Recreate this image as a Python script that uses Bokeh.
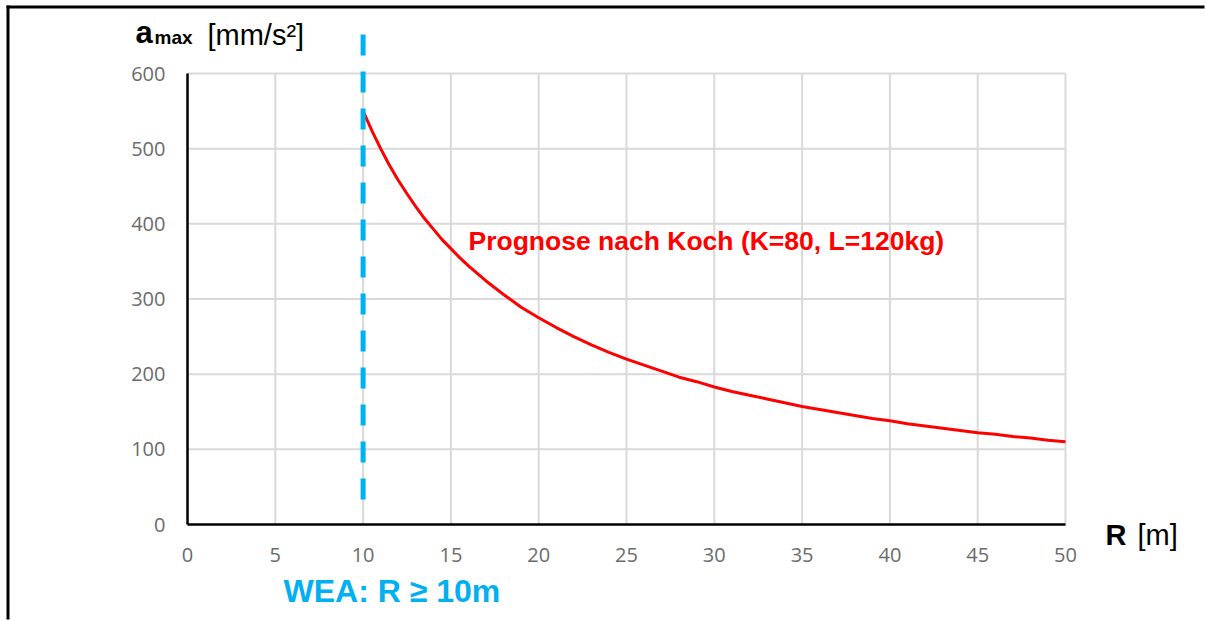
from bokeh.plotting import figure
from bokeh.models import Range1d, FixedTicker, Label
from bokeh.embed import file_html
from bokeh.resources import INLINE

# ---- data ----
radius_m = [10, 10.5, 11, 11.5, 12, 12.5, 13, 13.5, 14, 14.5, 15, 15.5, 16, 17, 18, 19, 20, 21,
            22, 23, 24, 25, 26, 27, 28, 29, 30, 31, 32, 33, 34, 35, 36, 37, 38, 39, 40, 41, 42,
            43, 44, 45, 46, 47, 48, 49, 50]
a_max = [550, 524, 500, 478, 458, 440, 423, 407, 393, 379, 367, 355, 344, 324, 306, 289, 275,
         262, 250, 239, 229, 220, 212, 204, 196, 190, 183, 177, 172, 167, 162, 157, 153, 149,
         145, 141, 138, 134, 131, 128, 125, 122, 120, 117, 115, 112, 110]
x_ticks = [0, 5, 10, 15, 20, 25, 30, 35, 40, 45, 50]
y_ticks = [0, 100, 200, 300, 400, 500, 600]
wea_limit = 10
wea_line_y = [652, 28]

# ---- layout: the frame covers the whole canvas ----
W, H = 1205, 620
KX = 878.0 / 50.0
KY = 451.0 / 600.0
XS = -187.0 / KX
YS = -(H - 524.0) / KY
def dx(px):
    return XS + px / KX
def dy(py):
    return YS + (H - py) / KY

p = figure(width=W, height=H, output_backend="svg", toolbar_location=None,
           x_range=Range1d(XS, XS + W / KX), y_range=Range1d(YS, YS + H / KY),
           min_border=0, min_border_left=0, min_border_right=0,
           min_border_top=0, min_border_bottom=0)
p.outline_line_color = None
p.border_fill_color = None
p.xgrid.visible = False
p.ygrid.visible = False

# outer frame: left and top edges only
p.quad(left=[dx(6), dx(6)], right=[dx(9), dx(W - 1)], top=[dy(5), dy(5)], bottom=[dy(H - 1), dy(8)],
       fill_color="black", line_color=None)

grid_col = "#d9d9d9"
p.segment(x0=x_ticks[1:], y0=[0] * (len(x_ticks) - 1), x1=x_ticks[1:], y1=[600] * (len(x_ticks) - 1),
          line_color=grid_col, line_width=2)
p.segment(x0=[0] * (len(y_ticks) - 1), y0=y_ticks[1:], x1=[50] * (len(y_ticks) - 1), y1=y_ticks[1:],
          line_color=grid_col, line_width=2)

for ax, ticks, bnds in ((p.xaxis[0], x_ticks, (0, 50)), (p.yaxis[0], y_ticks, (0, 600))):
    ax.fixed_location = 0
    ax.ticker = FixedTicker(ticks=ticks)
    ax.bounds = bnds
    ax.axis_line_color = "black"
    ax.axis_line_width = 2.5
    ax.major_tick_line_color = None
    ax.minor_tick_line_color = None
    ax.major_tick_out = 0
    ax.major_tick_in = 0
    ax.major_label_text_font = "Open Sans"
    ax.major_label_text_font_size = "20px"
    ax.major_label_text_color = "#6b6b6b"
p.xaxis[0].major_label_standoff = 23
p.yaxis[0].major_label_standoff = 22

p.line(radius_m, a_max, line_color="#ff0000", line_width=3, line_join="round")
p.line([wea_limit, wea_limit], wea_line_y, line_color="#00b0f0", line_width=5, line_dash="21 16")

def lab(text, px, py, size, style="normal", color="black"):
    p.add_layout(Label(x=dx(px), y=dy(py), text=text, text_font="Liberation Sans",
                       text_font_size=size, text_font_style=style, text_color=color,
                       text_align="left", text_baseline="alphabetic"))

lab("Prognose nach Koch (K=80, L=120kg)", 468, 240, "26.5px", "bold", "#ff0000")
lab("a", 135, 32, "31px", "bold")
lab("max", 154, 37, "19px", "bold")
lab("[mm/s²]", 207, 34, "29px")
lab("WEA: R ≥ 10m", 283, 590, "32px", "bold", "#00b0f0")
lab("R", 1105, 534, "29px", "bold")
lab("[m]", 1137, 534, "29px")

open("out.html", "w").write(file_html(p, INLINE))
